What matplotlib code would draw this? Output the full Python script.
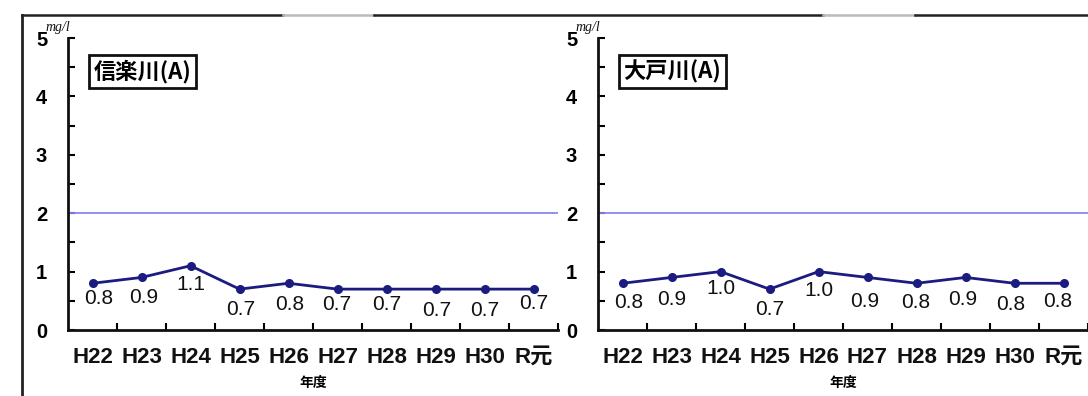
import matplotlib
matplotlib.use("Agg")
import matplotlib.pyplot as plt
from matplotlib.lines import Line2D
from matplotlib.ticker import MultipleLocator, FixedLocator

plt.rcParams['font.family'] = ['Liberation Sans', 'Noto Sans CJK JP', 'DejaVu Sans']

years = ['H22', 'H23', 'H24', 'H25', 'H26', 'H27', 'H28', 'H29', 'H30', 'R元']
shigaraki = [0.8, 0.9, 1.1, 0.7, 0.8, 0.7, 0.7, 0.7, 0.7, 0.7]
daido = [0.8, 0.9, 1.0, 0.7, 1.0, 0.9, 0.8, 0.9, 0.8, 0.8]
standard = 2.0
titles = ['信楽川(A)', '大戸川(A)']

# label offsets in pixels (dx right, dy down) relative to each point
offsets_left = [(6, 15), (2, 20), (0, 19), (1, 20), (1, 21), (-1, 15), (0, 15), (1, 21), (0, 21), (0, 14)]
offsets_right = [(6, 19), (0, 22), (0, 17), (0, 20), (0, 19), (-3, 24), (-1, 19), (-3, 22), (-4, 21), (-6, 18)]

W, H = 1088, 396
fig = plt.figure(figsize=(W / 100, H / 100), dpi=100)


def fx(px):
    return px / W


def fy(py):
    return 1 - py / H


line_color = '#1c1c80'
std_color = '#8888ee'

panels = [
    (68, shigaraki, titles[0], offsets_left),
    (598, daido, titles[1], offsets_right),
]

for x0, values, title, offs in panels:
    ax = fig.add_axes([fx(x0), fy(330), 490 / W, 292 / H])
    xs = list(range(len(years)))
    ax.plot(xs, values, color=line_color, lw=2, marker='o', ms=5.5,
            markerfacecolor=line_color, markeredgecolor=line_color, zorder=3)
    ax.axhline(standard, color=std_color, lw=1.3, zorder=2)
    for x, v, (dx, dy) in zip(xs, values, offs):
        ax.annotate(f'{v:.1f}', (x, v), xytext=(dx * 0.72, -dy * 0.72),
                    textcoords='offset points', ha='center', va='center',
                    fontsize=15, color='#111111')
    ax.set_xlim(-0.5, len(years) - 0.5)
    ax.set_ylim(0, 5)
    ax.set_xticks(xs)
    ax.set_xticklabels(years, fontsize=16, fontweight='bold', color='#111111')
    ax.xaxis.set_minor_locator(FixedLocator([i + 0.5 for i in range(len(years))]))
    ax.tick_params(axis='x', which='major', length=0, pad=12)
    ax.tick_params(axis='x', which='minor', direction='in', length=5, width=1.5)
    ax.yaxis.set_major_locator(MultipleLocator(1))
    ax.yaxis.set_minor_locator(MultipleLocator(0.5))
    ax.tick_params(axis='y', which='both', direction='in', length=5, width=1.5)
    ax.tick_params(axis='y', which='major', pad=15, labelsize=14.5)
    for lab in ax.get_yticklabels():
        lab.set_fontweight('bold')
    for s in ['top', 'right']:
        ax.spines[s].set_visible(False)
    for s in ['left', 'bottom']:
        ax.spines[s].set_linewidth(2)
        ax.spines[s].set_color('#111111')
    ax.set_xlabel('年度', fontsize=10, fontweight='bold', labelpad=6,
                  family=['Noto Sans CJK JP'])
    ax.text(0.052, 0.885, title, transform=ax.transAxes, fontsize=16,
            fontweight='bold', family=['Noto Sans CJK JP'], va='center', ha='left',
            bbox=dict(boxstyle='square,pad=0.22', fc='white', ec='#111111', lw=2))
    fig.text(fx(x0 - 10), fy(27), 'mg/l', fontsize=10, family='Liberation Serif',
             style='italic', ha='center', va='center', color='#111111')

# outer frame lines
fig.add_artist(Line2D([fx(22), fx(22)], [fy(15), 0], color='#222222', lw=2))
segments = [(22, 283, '#222222'), (283, 374, '#bbbbbb'), (374, 823, '#222222'),
            (823, 915, '#bbbbbb'), (915, 1088, '#222222')]
for a, b, c in segments:
    fig.add_artist(Line2D([fx(a), fx(b)], [fy(15), fy(15)], color=c, lw=1.8))

fig.savefig('out.png', dpi=100, facecolor='white')
